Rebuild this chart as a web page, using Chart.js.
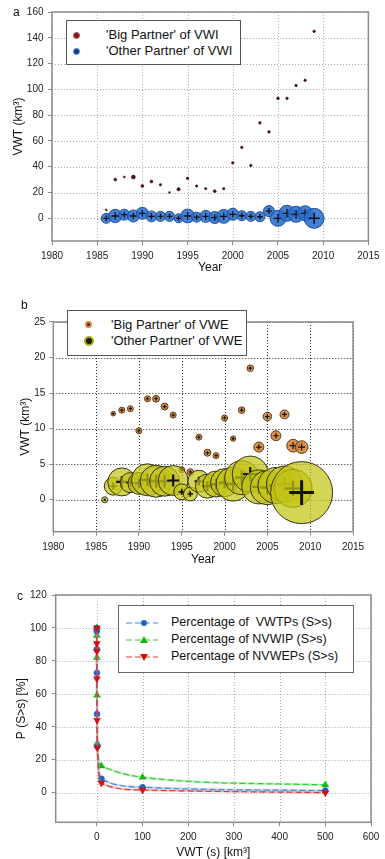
<!DOCTYPE html>
<html>
<head>
<meta charset="utf-8">
<script src="https://cdn.jsdelivr.net/npm/chart.js@4/dist/chart.umd.min.js"></script>
<style>
  body { margin: 0; background: #fff; font-family: "Liberation Sans", Arial, sans-serif; }
  #wrap { position: relative; width: 385px; height: 859px; overflow: hidden; }
  canvas { position: absolute; left: 0; }
  .lab { position: absolute; font-size: 12px; color: #111; }
  .leg { position: absolute; border: 1px solid #555; background: #fff; box-sizing: border-box; }
  .txt { position: absolute; font-size: 13px; line-height: 16px; color: #111; white-space: nowrap; }
  .c .txt { font-size: 12.5px; }
  .mk { position: absolute; border-radius: 50%; box-sizing: border-box; }
  svg { position: absolute; overflow: visible; }
</style>
</head>
<body>
<div id="wrap">
  <canvas id="chart-a" width="385" height="285" style="top:0"></canvas>
  <canvas id="chart-b" width="385" height="285" style="top:290px"></canvas>
  <canvas id="chart-c" width="385" height="279" style="top:580px"></canvas>

  <div class="lab" style="left:13px;top:5px">a</div>
  <div class="lab" style="left:21px;top:298px">b</div>
  <div class="lab" style="left:17px;top:589px">c</div>

  <div class="leg" style="left:66px;top:20px;width:175px;height:45px">
    <div class="mk" style="left:6px;top:11px;width:7px;height:7px;background:#7a1c1c;border:1.5px solid #c05050"></div>
    <div class="txt" style="left:39px;top:6px">'Big Partner' of VWI</div>
    <div class="mk" style="left:6px;top:27px;width:7px;height:7px;background:#1d3f78;border:1.5px solid #4a8ad8"></div>
    <div class="txt" style="left:39px;top:22px">'Other Partner' of VWI</div>
  </div>

  <div class="leg" style="left:67px;top:310px;width:180px;height:46px">
    <div class="mk" style="left:17px;top:10px;width:7px;height:7px;background:#3a2a10;border:2px solid #d88a40"></div>
    <div class="txt" style="left:43px;top:6px">'Big Partner' of VWE</div>
    <div class="mk" style="left:15.5px;top:24.5px;width:10px;height:10px;background:#1a1a08;border:2.5px solid #a8a820"></div>
    <div class="txt" style="left:43px;top:22px">'Other Partner' of VWE</div>
  </div>

  <div class="leg c" style="left:118px;top:605px;width:236px;height:68px;border:1.5px solid #666">
    <svg width="40" height="60" style="left:7px;top:8px">
      <line x1="0" y1="9" x2="32" y2="9" stroke="#4a8ad8" stroke-width="1.2" stroke-dasharray="6,3"/>
      <circle cx="18" cy="9" r="3" fill="#1f64c4"/>
      <line x1="0" y1="26" x2="32" y2="26" stroke="#3cc83c" stroke-width="1.2" stroke-dasharray="6,3"/>
      <polygon points="18,22 22,29 14,29" fill="#12b812"/>
      <line x1="0" y1="43" x2="32" y2="43" stroke="#d84040" stroke-width="1.2" stroke-dasharray="6,3"/>
      <polygon points="14,40 22,40 18,47" fill="#d01010"/>
    </svg>
    <div class="txt" style="left:52px;top:8px">Percentage of&nbsp; VWTPs (S&gt;s)</div>
    <div class="txt" style="left:52px;top:25px">Percentage of NVWIP (S&gt;s)</div>
    <div class="txt" style="left:52px;top:42px">Percentage of NVWEPs (S&gt;s)</div>
  </div>
</div>

<script>
  // ---- data ----
  const years = [1986, 1987, 1988, 1989, 1990, 1991, 1992, 1993, 1994, 1995, 1996, 1997,
                 1998, 1999, 2000, 2001, 2002, 2003, 2004, 2005, 2006, 2007, 2008, 2009];

  // panel a: virtual water import (km3) and relative bubble size
  const vwiBig      = [6.5, 30, 32, 32, 25, 28.5, 26, 20, 22.5, 31, 25, 23, 21, 23, 43, 55, 41, 74, 67, 93, 93, 103, 107, 145];
  const vwiBigSize  = [0.25, 0.56, 0.25, 1, 0.56, 0.56, 0.36, 0.25, 0.7, 0.42, 0.36, 0.36, 0.56, 0.36, 0.42, 0.42, 0.42, 0.42, 0.42, 0.49, 0.42, 0.42, 0.42, 0.42];
  const vwiOther     = [0, 1.8, 2.8, 1.8, 3.9, 1.5, 1.5, 1.5, 0, 1.8, 0.9, 1.5, 0.6, 1.5, 3.1, 2.0, 1.5, 1.2, 5.6, 0, 3.9, 3.1, 3.9, 0];
  const vwiOtherSize = [6.25, 11, 7.5, 9, 9, 7.5, 6.25, 6.25, 5, 12, 6.25, 9, 9, 12, 9, 6.25, 6.25, 6.25, 7.5, 16, 16, 16, 14, 25];

  // panel b: virtual water export (km3)
  const vweBigYears = years.slice(1);
  const vweBig      = [12.1, 12.6, 12.8, 9.7, 14.2, 14.2, 13.1, 11.9, 4.2, 3.9, 8.8, 6.6, 6.2, 11.5, 8.6, 12.6, 18.5, 7.4, 11.7, 9.0, 12.0, 7.6, 7.4];
  const vweBigSize  = [1.3, 2.25, 2.25, 2.25, 2.25, 3, 3, 2.25, 2.25, 2.7, 2.25, 3, 2.25, 2.25, 1.8, 2.7, 2.7, 6.25, 4.6, 6.25, 5, 10, 10];
  const vweOther     = [0, 1.9, 2.5, 2.4, 2.3, 2.8, 2.6, 2.6, 2.7, 1.1, 0.8, 2.6, 1.9, 2.2, 2.4, 2.2, 3.1, 3.6, 1.8, 1.7, 2.0, 2.2, 1.6, 1.0];
  const vweOtherSize = [2.25, 20, 49, 25, 30, 64, 64, 56, 56, 16, 12, 30, 36, 42, 49, 72, 72, 81, 72, 72, 81, 81, 90, 240];

  // panel c: exceedance percentages vs threshold s (km3)
  const thresholds  = [0, 0.01, 0.05, 0.1, 0.5, 1, 10, 100, 500];
  const pctVWTP     = [100, 98, 87, 72.7, 47.7, 28, 8.5, 3.3, 1.2];
  const pctNVWEP    = [100, 90.5, 85.8, 69.2, 44, 27.3, 5.8, 1.6, 0];
  const thresholdsG = [0, 0.01, 0.1, 0.5, 1, 10, 100, 500];
  const pctNVWIP    = [100, 95.4, 82, 59.2, 30, 16.2, 9.3, 4.7];

  const yearTicks = [1980, 1985, 1990, 1995, 2000, 2005, 2010, 2015];
  const aTicks = [0, 20, 40, 60, 80, 100, 120, 140, 160];
  const bTicks = [0, 5, 10, 15, 20, 25];
  const cxTicks = [0, 100, 200, 300, 400, 500, 600];
  const cyTicks = [0, 20, 40, 60, 80, 100, 120];

  // ---- helpers ----
  const FONT = '"Liberation Sans", Arial, sans-serif';
  const R = v => 2 * Math.sqrt(v);

  // dotted grid + box frame, drawn under the marks
  const frame = {
    id: "frame",
    beforeDatasetsDraw(chart, args, opts) {
      const { ctx, chartArea: a, scales } = chart;
      ctx.save();
      ctx.strokeStyle = opts.grid;
      ctx.lineWidth = 1;
      ctx.setLineDash([1, 2]);
      ctx.beginPath();
      for (const t of scales.x.ticks) {
        const px = Math.round(scales.x.getPixelForValue(t.value)) + 0.5;
        ctx.moveTo(px, a.top); ctx.lineTo(px, a.bottom);
      }
      for (const t of scales.y.ticks) {
        const py = Math.round(scales.y.getPixelForValue(t.value)) + 0.5;
        ctx.moveTo(a.left, py); ctx.lineTo(a.right, py);
      }
      ctx.stroke();
      ctx.setLineDash([]);
      ctx.strokeStyle = opts.color;
      ctx.lineWidth = opts.width;
      ctx.strokeRect(a.left, a.top, a.right - a.left, a.bottom - a.top);
      ctx.restore();
    },
  };

  function axis(o) {
    return {
      type: "linear",
      min: o.min, max: o.max,
      afterBuildTicks: s => { s.ticks = o.ticks.map(v => ({ value: v })); },
      afterFit: s => { if (o.horizontal) s.height = o.size; else s.width = o.size; },
      grid: { drawOnChartArea: false, tickLength: 4, tickColor: "#888", tickWidth: 1 },
      border: { display: false },
      ticks: { color: "#222", font: { size: 10, family: FONT }, padding: o.pad, maxRotation: 0,
               autoSkip: false, callback: v => String(v) },
      title: {
        display: true, text: o.title, color: "#111",
        font: { size: 12, family: FONT, lineHeight: o.lh || 1.2 },
        padding: o.horizontal ? { top: 0, bottom: o.tpad } : { top: o.tpad, bottom: 0 },
      },
    };
  }

  function bubbleData(xs, ys, sizes, crossK) {
    const pts = [];
    xs.forEach((x, i) => {
      const r = R(sizes[i]);
      pts.push({ x, y: ys[i], r, cross: false });
      pts.push({ x, y: ys[i], r: r * crossK, cross: true });
    });
    return pts;
  }

  function bubbleSet(pts, fill, edge, crossW) {
    return {
      data: pts,
      pointStyle: c => (c.raw && c.raw.cross ? "cross" : "circle"),
      backgroundColor: c => (c.raw && c.raw.cross ? "rgba(0,0,0,0)" : fill),
      borderColor: c => (c.raw && c.raw.cross ? "#111" : edge),
      borderWidth: c => (c.raw && c.raw.cross ? crossW(c.raw.r) : 1),
    };
  }

  const base = (pad, frameOpts) => ({
    responsive: false,
    animation: false,
    events: [],
    layout: { padding: pad },
    plugins: { legend: { display: false }, tooltip: { enabled: false }, frame: frameOpts },
  });

  // ---- panel a ----
  new Chart(document.getElementById("chart-a"), {
    type: "bubble",
    data: {
      datasets: [
        { data: years.map((x, i) => ({ x, y: vwiBig[i], r: R(vwiBigSize[i]) })),
          backgroundColor: "#4a1414", borderColor: "#3a0a0a", borderWidth: 0.5 },
        bubbleSet(bubbleData(years, vwiOther, vwiOtherSize, 0.55),
          "rgba(42,112,208,0.88)", "#1f4f94", r => (r > 5 ? 1.6 : 1.3)),
      ],
    },
    options: {
      ...base({ top: 12, right: 14, left: 0, bottom: 0 }, { color: "#8c8c8c", width: 1.5, grid: "#a8a8a8" }),
      scales: {
        x: axis({ horizontal: true, min: 1980, max: 2015, ticks: yearTicks, size: 44, pad: 5.5,
                  title: "Year", tpad: 9.8 }),
        y: axis({ min: -17.6, max: 160, ticks: aTicks, size: 52, pad: 4.5,
                  title: "VWT (km³)", tpad: 11 }),
      },
    },
    plugins: [frame],
  });

  // ---- panel b ----
  new Chart(document.getElementById("chart-b"), {
    type: "bubble",
    data: {
      datasets: [
        bubbleSet(bubbleData(years, vweOther, vweOtherSize, 0.4),
          "rgba(196,196,22,0.72)", "#33330c", r => (r > 9 ? 3 : r > 4 ? 2.2 : 1.6)),
        bubbleSet(bubbleData(vweBigYears, vweBig, vweBigSize, 0.55),
          "rgba(214,128,48,0.85)", "#5a3a14", () => 1.2),
      ],
    },
    options: {
      ...base({ top: 12.7, right: 13, left: 0, bottom: 0 }, { color: "#8c8c8c", width: 1.5, grid: "#222" }),
      scales: {
        x: axis({ horizontal: true, min: 1980, max: 2015, ticks: yearTicks, size: 43.3, pad: 6,
                  title: "Year", tpad: 7.8 }),
        y: axis({ min: -4.5, max: 25, ticks: bTicks, size: 53.3, pad: 4,
                  title: "VWT (km³)", tpad: 18.5 }),
      },
    },
    plugins: [frame],
  });

  // ---- panel c ----
  function curve(xs, ys, dark, light, marker) {
    const pts = xs.map((x, i) => ({ x, y: ys[i] }));
    return [
      { data: pts, showLine: true, borderColor: dark, borderWidth: 1.2, borderDash: [6, 3],
        cubicInterpolationMode: "monotone", pointRadius: marker.r, pointStyle: marker.style,
        rotation: marker.rot || 0, pointBackgroundColor: marker.color, pointBorderColor: marker.color,
        pointBorderWidth: 0.5 },
      { data: pts, showLine: true, borderColor: light, borderWidth: 2.2,
        cubicInterpolationMode: "monotone", pointRadius: 0 },
    ];
  }

  new Chart(document.getElementById("chart-c"), {
    type: "scatter",
    data: {
      datasets: [
        ...curve(thresholds, pctNVWEP, "#d83a3a", "rgba(232,110,110,0.45)",
                 { r: 4, style: "triangle", rot: 180, color: "#d01010" }),
        ...curve(thresholds, pctVWTP, "#4a8ad8", "rgba(120,165,225,0.45)",
                 { r: 3, style: "circle", color: "#1f64c4" }),
        ...curve(thresholdsG, pctNVWIP, "#3cc83c", "rgba(110,220,110,0.45)",
                 { r: 4, style: "triangle", color: "#12b812" }),
      ],
    },
    options: {
      ...base({ top: 15, right: 14, left: 0, bottom: 0 }, { color: "#8c8c8c", width: 1.5, grid: "#a8a8a8" }),
      scales: {
        x: axis({ horizontal: true, min: -90, max: 600, ticks: cxTicks, size: 36.7, pad: 5.4,
                  title: "VWT (s) [km³]", tpad: 0, lh: 1 }),
        y: axis({ min: -18, max: 120, ticks: cyTicks, size: 55.7, pad: 5,
                  title: "P (S>s) [%]", tpad: 14 }),
      },
    },
    plugins: [frame],
  });
</script>
</body>
</html>
